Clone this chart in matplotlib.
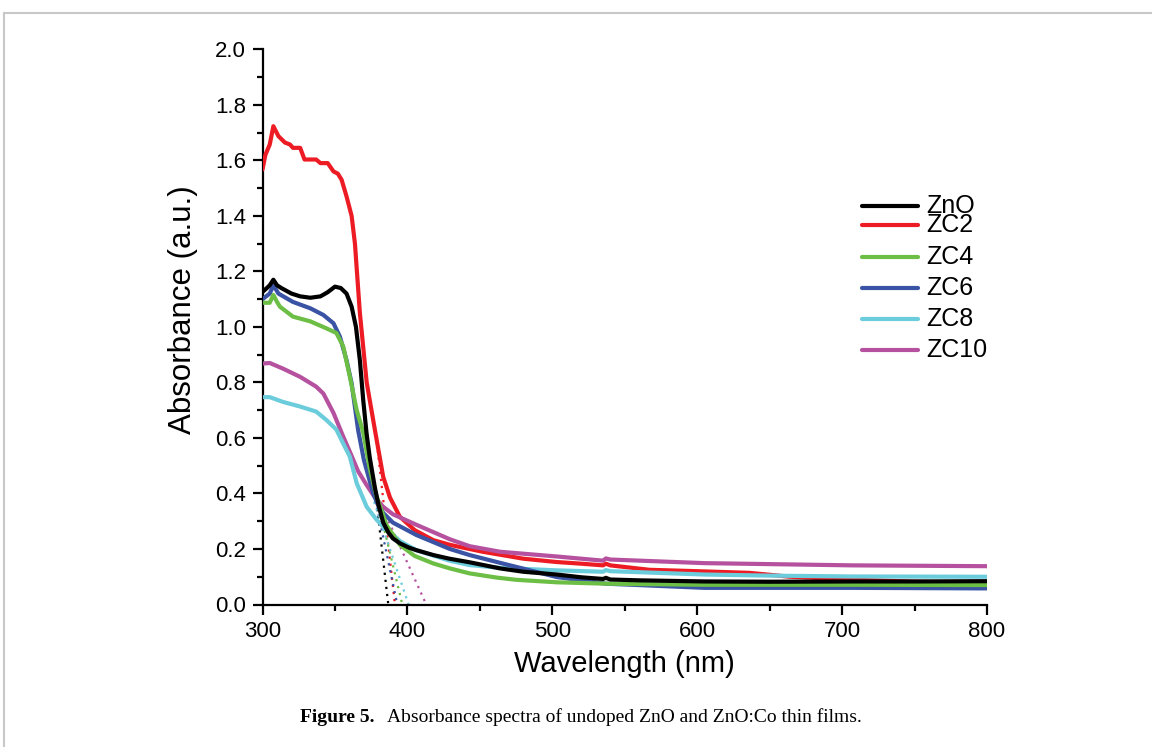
import matplotlib
matplotlib.use("Agg")
import matplotlib.pyplot as plt
from matplotlib.lines import Line2D
from matplotlib.ticker import MultipleLocator

plt.rcParams['font.family'] = ['Liberation Sans', 'DejaVu Sans']

# ---------------- data ----------------
labels = ["ZnO", "ZC2", "ZC4", "ZC6", "ZC8", "ZC10"]
colors = ["#000000", "#ED1C24", "#6CBE45", "#3A53A4", "#6BCCDC", "#B5519E"]

zno_wl = [300, 303, 305, 307.5, 310, 313, 320, 326, 333, 340, 345, 350, 354, 358, 361.5, 364.5, 367.2,
          369.5, 371.8, 374, 377.6, 380, 383.3, 387, 390, 395, 401, 406, 418, 429, 443, 464, 480, 503,
          520, 535, 537, 540, 560, 605, 650, 707, 750, 800]
zno_abs = [1.126, 1.14, 1.15, 1.17, 1.15, 1.14, 1.12, 1.11, 1.105, 1.11, 1.125, 1.145, 1.14, 1.12, 1.073,
           1.0, 0.88, 0.737, 0.617, 0.53, 0.42, 0.36, 0.295, 0.258, 0.238, 0.22, 0.205, 0.196, 0.178,
           0.165, 0.152, 0.13, 0.118, 0.108, 0.098, 0.092, 0.096, 0.09, 0.087, 0.083, 0.082, 0.083,
           0.083, 0.084]

zc2_wl = [300, 302, 305, 307.5, 311, 315.5, 319, 321, 326, 329, 337, 340, 345, 349, 352, 354.6, 358,
          361.5, 363.8, 367.2, 371.9, 377.6, 383.3, 388, 394.8, 405, 417.8, 429.3, 441, 452, 480, 503,
          520, 535, 537, 540, 567, 600, 636, 664, 705, 750, 800]
zc2_abs = [1.567, 1.62, 1.657, 1.723, 1.687, 1.664, 1.657, 1.645, 1.645, 1.603, 1.603, 1.59, 1.59, 1.56,
           1.552, 1.53, 1.47, 1.40, 1.30, 1.05, 0.80, 0.628, 0.46, 0.385, 0.316, 0.268, 0.232, 0.215,
           0.202, 0.19, 0.165, 0.153, 0.147, 0.141, 0.147, 0.141, 0.125, 0.12, 0.114, 0.1, 0.09, 0.082,
           0.077]

zc4_wl = [300, 305, 307.5, 310, 312, 321, 333, 344, 351, 355.7, 360.3, 365, 369.5, 374, 378.8, 385.7,
          394.8, 405, 417.8, 429.3, 443, 461.5, 475, 503, 537, 605, 707, 800]
zc4_abs = [1.087, 1.087, 1.115, 1.09, 1.073, 1.037, 1.02, 0.995, 0.978, 0.93, 0.82, 0.70, 0.62, 0.49,
           0.388, 0.285, 0.215, 0.175, 0.148, 0.13, 0.112, 0.097, 0.089, 0.08, 0.075, 0.071, 0.071,
           0.07]

zc6_wl = [300, 305, 307.5, 311, 321, 333, 342, 349, 353.4, 358, 361.5, 366, 370, 376.4, 380, 383.3,
          390, 406.3, 429.3, 443, 464, 503, 537, 605, 707, 800]
zc6_abs = [1.10, 1.12, 1.15, 1.12, 1.09, 1.067, 1.043, 1.013, 0.965, 0.88, 0.797, 0.628, 0.52, 0.40,
           0.355, 0.33, 0.295, 0.25, 0.2, 0.178, 0.15, 0.099, 0.075, 0.06, 0.06, 0.058]

zc8_wl = [300, 305, 314, 326, 337, 344, 351, 355.7, 360.3, 365, 371.9, 378.8, 383.3, 388, 395, 406,
          429, 443, 464, 503, 535, 537, 540, 605, 650, 707, 800]
zc8_abs = [0.747, 0.747, 0.73, 0.713, 0.695, 0.665, 0.63, 0.58, 0.532, 0.437, 0.352, 0.305, 0.28, 0.26,
           0.228, 0.196, 0.158, 0.142, 0.132, 0.123, 0.118, 0.124, 0.12, 0.108, 0.104, 0.101, 0.10]

zc10_wl = [300, 305, 314, 326, 337, 342, 349, 355.7, 360.3, 366, 371.9, 377, 383.3, 390, 406.3, 429.3,
           443, 464, 503, 535, 537, 540, 605, 707, 800]
zc10_abs = [0.868, 0.87, 0.85, 0.82, 0.785, 0.76, 0.69, 0.605, 0.55, 0.48, 0.43, 0.39, 0.352, 0.325,
            0.287, 0.235, 0.21, 0.19, 0.173, 0.158, 0.166, 0.162, 0.149, 0.141, 0.138]

# band-edge tangent (dotted) lines: start point on the curve -> x-intercept
edge_start_wl = [377.6, 379.0, 374.0, 373.0, 377.0, 381.0]
edge_start_abs = [0.42, 0.58, 0.49, 0.50, 0.37, 0.37]
edge_intercept = [386.8, 391.4, 396.5, 393.0, 400.8, 413.0]

x_ticks = [300, 400, 500, 600, 700, 800]
y_ticks = [0.0, 0.2, 0.4, 0.6, 0.8, 1.0, 1.2, 1.4, 1.6, 1.8, 2.0]

series_wl = [zno_wl, zc2_wl, zc4_wl, zc6_wl, zc8_wl, zc10_wl]
series_abs = [zno_abs, zc2_abs, zc4_abs, zc6_abs, zc8_abs, zc10_abs]

# ---------------- figure ----------------
W, H = 1152, 747
fig = plt.figure(figsize=(W / 100, H / 100), dpi=100)
ax_left, ax_right, ax_bottom, ax_top = 262.5, 987.0, 604.5, 49.3
ax = fig.add_axes([ax_left / W, 1 - ax_bottom / H, (ax_right - ax_left) / W, (ax_bottom - ax_top) / H])

order = [1, 5, 4, 3, 2, 0]
for i in order:
    ax.plot(series_wl[i], series_abs[i], color=colors[i], lw=3.0, solid_joinstyle='round',
            solid_capstyle='round', zorder=3 + (1 if i == 0 else 0))

for i in range(6):
    ax.plot([edge_start_wl[i], edge_intercept[i]], [edge_start_abs[i], 0.0], color=colors[i],
            lw=1.6, linestyle=(0, (1, 2.2)), zorder=2)

ax.set_xlim(300, 800)
ax.set_ylim(0, 2.0)
ax.set_xticks(x_ticks)
ax.set_yticks(y_ticks)
ax.set_yticklabels([f"{v:.1f}" for v in y_ticks])
ax.xaxis.set_minor_locator(MultipleLocator(50))
ax.yaxis.set_minor_locator(MultipleLocator(0.1))

for s in ['top', 'right']:
    ax.spines[s].set_visible(False)
for s in ['left', 'bottom']:
    ax.spines[s].set_linewidth(1.6)

ax.tick_params(which='major', direction='out', length=7, width=1.6, labelsize=16, pad=5)
ax.tick_params(which='minor', direction='out', length=4, width=1.6)

ax.set_xlabel("Wavelength (nm)", fontsize=21, labelpad=6)
ax.set_ylabel("Absorbance (a.u.)", fontsize=22.5)
ax.yaxis.set_label_coords((198 - ax_left) / (ax_right - ax_left), (ax_bottom - 310) / (ax_bottom - ax_top))

# legend (manual, matching the uneven spacing of the original)
leg_y_px = [206, 225, 257, 288, 319, 350]
lx0, lx1, ltx = 862, 918, 926
for i in range(6):
    yf = (ax_bottom - leg_y_px[i]) / (ax_bottom - ax_top)
    ax.add_line(Line2D([(lx0 - ax_left) / (ax_right - ax_left), (lx1 - ax_left) / (ax_right - ax_left)],
                       [yf, yf], transform=ax.transAxes, color=colors[i], lw=3.0, solid_capstyle='round',
                       clip_on=False))
    ax.text((ltx - ax_left) / (ax_right - ax_left), yf, labels[i], transform=ax.transAxes,
            fontsize=18, va='center', ha='left')

# page frame (light grey border)
frame_col = "#c8c8c8"
fig.add_artist(Line2D([4 / W, 1.0], [1 - 13 / H, 1 - 13 / H], color=frame_col, lw=1.5))
fig.add_artist(Line2D([4 / W, 4 / W], [0.0, 1 - 13 / H], color=frame_col, lw=1.5))

# caption
fig.text(300 / W, 1 - 717 / H, "Figure 5.", fontsize=14, fontweight='bold', family='Liberation Serif',
         ha='left', va='center')
fig.text(387 / W, 1 - 717 / H, "Absorbance spectra of undoped ZnO and ZnO:Co thin films.", fontsize=14,
         family='Liberation Serif', ha='left', va='center')

fig.savefig("out.png", dpi=100)
